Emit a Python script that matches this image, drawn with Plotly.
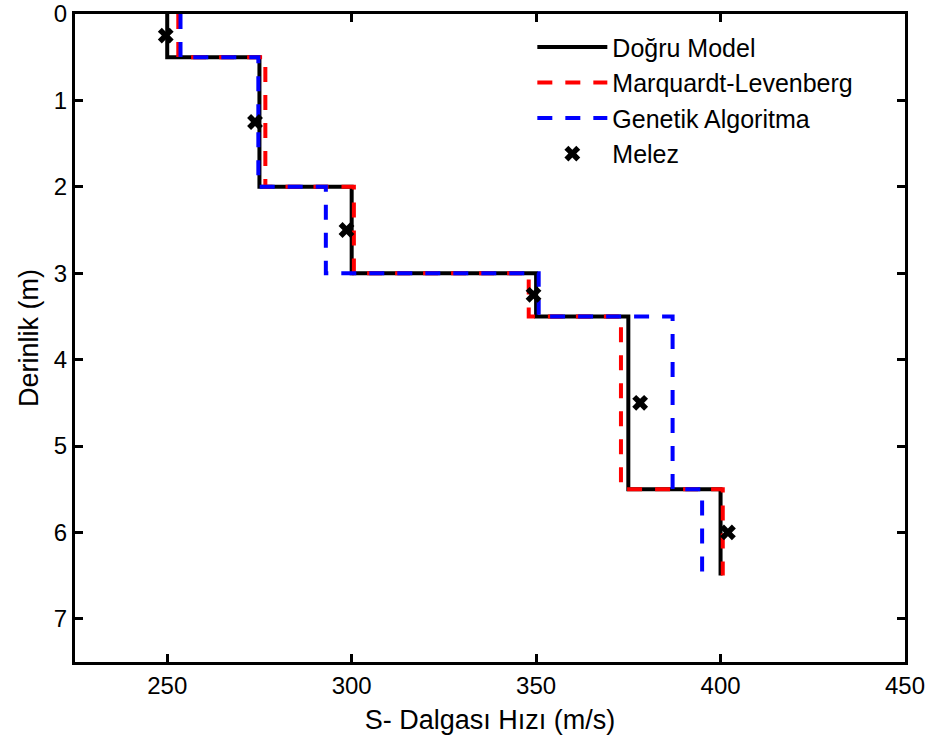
import plotly.graph_objects as go

# Layer boundaries (depth, m) and S-wave velocities (m/s) per layer
layer_tops = [0.0, 0.5, 2.0, 3.0, 3.5, 5.5]
layer_bottoms = [0.5, 2.0, 3.0, 3.5, 5.5, 6.5]

vs_true = [250, 275, 300, 350, 375, 400]
vs_marquardt = [253, 276.6, 300.6, 348, 373, 400.6]
vs_genetic = [253.6, 274.7, 293, 350.7, 387, 395]

# Hybrid (Melez) inversion results at layer mid-depths
melez_depth = [0.25, 1.25, 2.5, 3.25, 4.5, 6.0]
melez_vs = [249.6, 273.8, 298.6, 349.3, 378.2, 402]

x_ticks = [250, 300, 350, 400, 450]
y_ticks = [0, 1, 2, 3, 4, 5, 6, 7]


def step_profile(vs):
    xs, ys = [], []
    for v, top, bot in zip(vs, layer_tops, layer_bottoms):
        xs += [v, v]
        ys += [top, bot]
    return xs, ys


FONT = "Liberation Sans, Arial, Helvetica, sans-serif"
DASH = "15px,13px"

fig = go.Figure()

x, y = step_profile(vs_true)
fig.add_trace(go.Scatter(x=x, y=y, mode="lines", name="Doğru Model",
                         line=dict(color="black", width=4)))

x, y = step_profile(vs_marquardt)
fig.add_trace(go.Scatter(x=x, y=y, mode="lines", name="Marquardt-Levenberg",
                         line=dict(color="#ff0000", width=4, dash=DASH)))

x, y = step_profile(vs_genetic)
fig.add_trace(go.Scatter(x=x, y=y, mode="lines", name="Genetik Algoritma",
                         line=dict(color="#0000ff", width=4, dash=DASH)))

fig.add_trace(go.Scatter(x=melez_vs, y=melez_depth, mode="markers", name="Melez",
                         marker=dict(symbol="x", size=14, color="black",
                                     line=dict(width=0))))

axis_common = dict(
    showline=True, linecolor="black", linewidth=3, mirror="ticks",
    ticks="inside", ticklen=8, tickwidth=3, tickcolor="black",
    showgrid=False, zeroline=False, automargin=False,
    ticklabeloverflow="allow",
    tickfont=dict(family=FONT, size=24, color="black"),
)

fig.update_xaxes(range=[225, 450], tickvals=x_ticks,
                 title=dict(text="S- Dalgası Hızı (m/s)",
                            font=dict(family=FONT, size=27, color="black"),
                            standoff=13),
                 **axis_common)
fig.update_yaxes(range=[7.5, 0], tickvals=y_ticks,
                 title=dict(text="Derinlik (m)",
                            font=dict(family=FONT, size=27, color="black"),
                            standoff=8),
                 **axis_common)

fig.update_layout(
    width=928, height=744,
    margin=dict(l=75, r=23, t=14, b=82),
    paper_bgcolor="white", plot_bgcolor="white",
    font=dict(family=FONT, color="black"),
    legend=dict(x=0.551, y=0.984, xanchor="left", yanchor="top",
                bgcolor="rgba(0,0,0,0)", borderwidth=0,
                font=dict(family=FONT, size=25, color="black"),
                itemwidth=70),
)

fig.write_html("out.html")
